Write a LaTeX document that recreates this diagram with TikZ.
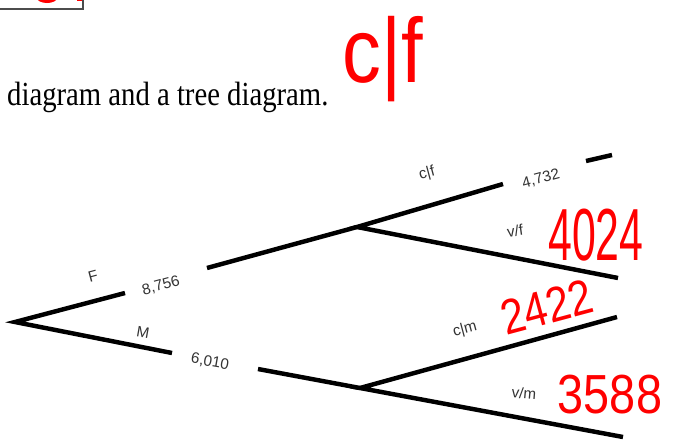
\documentclass[tikz,border=0pt]{standalone}
\usepackage{fontspec}
\setmainfont{Liberation Serif}
\newfontfamily\labelfont{Liberation Sans}
\newfontfamily\inkfont{Liberation Sans}
\begin{document}
\begin{tikzpicture}[x=0.03cm, y=-0.03cm,
  branch/.style={line width=3.8pt},
  lbl/.style={font=\labelfont\fontsize{13}{15}\selectfont, text=black!80, inner sep=0pt},
  ink/.style={text=red, inner sep=0pt}]
\clip (0,0) rectangle (675,441);
\fill[white] (0,0) rectangle (675,441);
\draw[black!70, line width=1.2pt] (-5,9) -- (83,9) -- (83,-5);
\fill[red] (47,-2) ellipse (10 and 5);
\draw[red, line width=1.2pt] (77,0) -- (82,0);
\node[anchor=base west, inner sep=0pt, xscale=0.98, yscale=1.15, text=black, font=\fontsize{25}{30}\selectfont] (title) at (7,105) {diagram and a tree diagram.};
\node[ink, anchor=base, xscale=0.85, font=\inkfont\fontsize{78}{78}\selectfont] (given) at (383,82) {c|f};
\coordinate (root) at (15,322);
\coordinate (fend) at (125,293);
\coordinate (fstart) at (207,268);
\coordinate (fnode) at (357,227);
\coordinate (mend) at (172,353);
\coordinate (mstart) at (258,369);
\coordinate (mnode) at (360,388);
\coordinate (cfend) at (503,184);
\coordinate (vfend) at (618,278);
\coordinate (cmend) at (617,317);
\coordinate (vmend) at (623,437);
\coordinate (dasha) at (586,161);
\coordinate (dashb) at (612,155);
\draw[branch] (fend) -- (root) -- (mend);
\draw[branch] (fstart) -- (fnode);
\draw[branch] (mstart) -- (mnode);
\draw[branch] (cfend) -- (fnode) -- (vfend);
\draw[branch] (cmend) -- (mnode) -- (vmend);
\draw[branch] (dasha) -- (dashb);
\node[lbl, rotate=15] (flbl) at (93,276) {F};
\node[lbl, rotate=15] (fnum) at (161,286) {8,756};
\node[lbl, rotate=-10] (mlbl) at (143,332) {M};
\node[lbl, rotate=-10] (mnum) at (210,362) {6,010};
\node[lbl, rotate=15] (cflbl) at (427,174) {c|f};
\node[lbl, rotate=15] (cfnum) at (541,179) {4,732};
\node[lbl, rotate=8] (vflbl) at (515,231) {v/f};
\node[lbl, rotate=15] (cmlbl) at (465,330) {c|m};
\node[lbl, rotate=-5] (vmlbl) at (524,393) {v/m};
\node[ink, anchor=base, xscale=0.58, font=\inkfont\fontsize{63}{63}\selectfont] (vfnum) at (596,260) {4024};
\node[ink, rotate=15, xscale=0.85, font=\inkfont\fontsize{42}{42}\selectfont] (cmnum) at (547,307) {2422};
\node[ink, anchor=base, xscale=0.85, font=\inkfont\fontsize{47}{47}\selectfont] (vmnum) at (610,413) {3588};
\end{tikzpicture}
\end{document}
